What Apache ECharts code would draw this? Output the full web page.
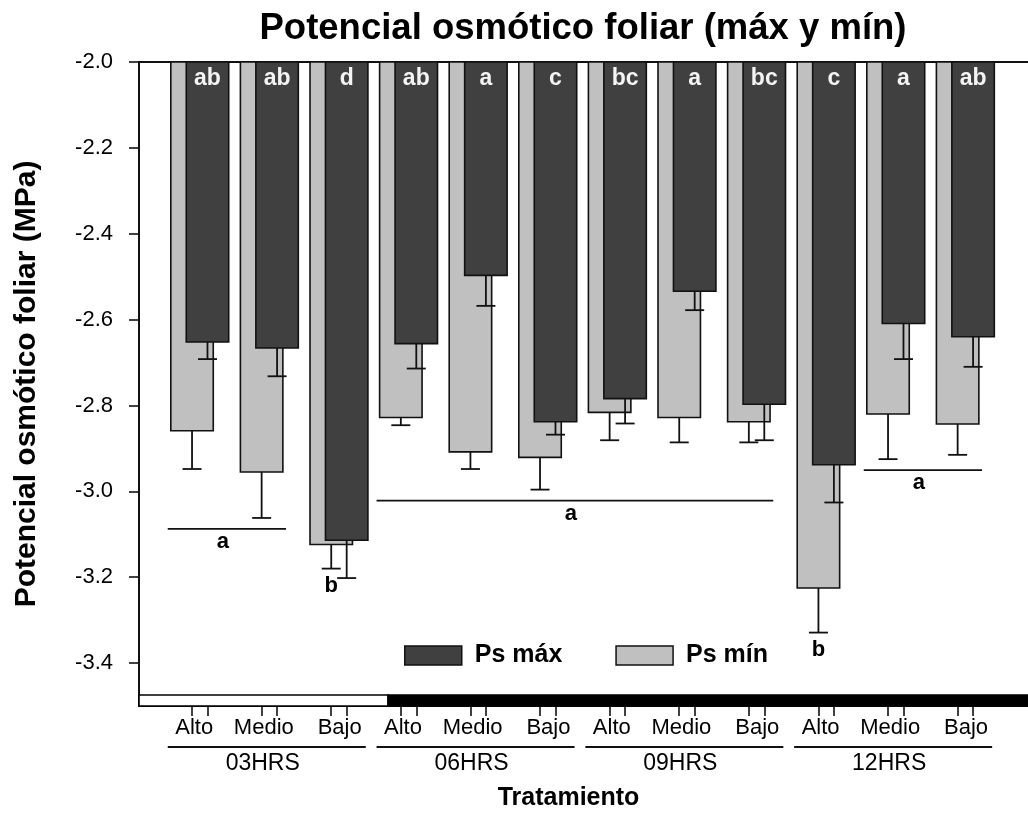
<!DOCTYPE html>
<html>
<head>
<meta charset="utf-8">
<title>Potencial osmótico foliar</title>
<script src="https://cdn.jsdelivr.net/npm/echarts@6/dist/echarts.min.js"></script>
<style>
  html, body { margin: 0; padding: 0; background: #fff; }
  #chart { width: 1028px; height: 820px; }
</style>
</head>
<body>
<div id="chart"></div>
<script>
// categorías
const niveles = ["Alto", "Medio", "Bajo"];
const tiempos = ["03HRS", "06HRS", "09HRS", "12HRS"];

// Ps máx (barras oscuras), error y letras
const psMax = [-2.652, -2.666, -3.114, -2.656, -2.497, -2.838, -2.784, -2.534, -2.797, -2.938, -2.609, -2.640];
const psMaxErr = [0.040, 0.066, 0.088, 0.058, 0.071, 0.030, 0.058, 0.044, 0.084, 0.088, 0.083, 0.070];
const letrasMax = ["ab", "ab", "d", "ab", "a", "c", "bc", "a", "bc", "c", "a", "ab"];

// Ps mín (barras claras), error
const psMin = [-2.859, -2.955, -3.124, -2.828, -2.908, -2.921, -2.816, -2.828, -2.838, -3.225, -2.820, -2.843];
const psMinErr = [0.089, 0.107, 0.056, 0.018, 0.040, 0.075, 0.065, 0.058, 0.048, 0.104, 0.105, 0.072];

// letras de Ps mín por grupos de tratamientos
const gruposMin = [
  { desde: 0, hasta: 1, letra: "a" },
  { desde: 2, hasta: 2, letra: "b" },
  { desde: 3, hasta: 8, letra: "a" },
  { desde: 9, hasta: 9, letra: "b" },
  { desde: 10, hasta: 11, letra: "a" },
];

// franja luz / oscuridad
const fotoperiodo = [
  { desde: -0.873, hasta: 2.705, luz: true },
  { desde: 2.705, hasta: 11.9, luz: false },
];

const yTicks = [-2.0, -2.2, -2.4, -2.6, -2.8, -3.0, -3.2, -3.4];

const X_MIN = -0.873, X_MAX = 11.9;
const Y_MIN = -3.5, Y_MAX = -2.0;
const OFF = 0.111;     // separación barra clara / oscura
const BAR_W = 0.61;
const OSCURO = "#404040";
const CLARO = "#c0c0c0";
const LINEA = "#111";
const FUENTE = '"Liberation Sans", Arial, sans-serif';

const xTicks = [];
const xLabels = [];
const corrLabel = [-0.08, -0.08, 0.01];
for (let i = 0; i < psMax.length; i++) {
  xTicks.push(i - OFF, i + OFF);
  xLabels.push(i + corrLabel[i % 3]);
}

function barras(offset, fill, valores, errores, letras) {
  return function (params, api) {
    const i = params.dataIndex;
    const cx = i + offset;
    const top = api.coord([cx, Y_MAX]);
    const bot = api.coord([cx, valores[i]]);
    const fin = api.coord([cx, valores[i] - errores[i]]);
    const w = api.size([BAR_W, 0])[0];
    const hijos = [
      { type: "rect", shape: { x: top[0] - w / 2, y: top[1], width: w, height: bot[1] - top[1] },
        style: { fill: fill, stroke: LINEA, lineWidth: 1.6 } },
      { type: "line", shape: { x1: bot[0], y1: bot[1], x2: bot[0], y2: fin[1] },
        style: { stroke: LINEA, lineWidth: 1.8 } },
      { type: "line", shape: { x1: bot[0] - 9.5, y1: fin[1], x2: bot[0] + 9.5, y2: fin[1] },
        style: { stroke: LINEA, lineWidth: 1.8 } },
    ];
    if (letras) {
      hijos.push({ type: "text", x: top[0], y: top[1] + 5,
        style: { text: letras[i], fill: "#f4f4f4", font: "bold 23px " + FUENTE, align: "center", verticalAlign: "top" } });
    }
    return { type: "group", children: hijos };
  };
}

const chart = echarts.init(document.getElementById("chart"));

chart.setOption({
  animation: false,
  graphic: [{
    type: "text", x: 583, y: 10,
    style: { text: "Potencial osmótico foliar (máx y mín)", font: "bold 36.5px " + FUENTE, fill: "#000", align: "center", verticalAlign: "top" }
  }],
  legend: {
    left: 404, top: 643, padding: 0, itemWidth: 57, itemHeight: 19, itemGap: 53, icon: "rect",
    textStyle: { fontSize: 25, fontWeight: "bold", color: "#000", fontFamily: FUENTE, padding: [0, 0, 0, 8] },
    data: [
      { name: "Ps máx", itemStyle: { color: OSCURO, borderColor: LINEA, borderWidth: 1.5 } },
      { name: "Ps mín", itemStyle: { color: CLARO, borderColor: LINEA, borderWidth: 1.5 } },
    ],
  },
  grid: { left: 139, right: 0, top: 62, bottom: 114, outerBoundsMode: "none" },
  xAxis: [{
    type: "value", min: X_MIN, max: X_MAX, position: "bottom",
    name: "Tratamiento", nameLocation: "middle", nameGap: 80,
    nameTextStyle: { fontSize: 25, fontWeight: "bold", color: "#000", fontFamily: FUENTE, padding: [0, 30, 0, 0] },
    axisLine: { show: true, onZero: false, lineStyle: { color: LINEA, width: 2 } },
    axisTick: { show: true, customValues: xTicks, length: 10, lineStyle: { color: LINEA, width: 1.6 } },
    axisLabel: { customValues: xLabels, margin: 11, fontSize: 22, color: "#000", fontFamily: FUENTE,
      formatter: (v) => niveles[Math.round(v) % 3] },
    splitLine: { show: false },
  }, {
    type: "value", min: X_MIN, max: X_MAX, position: "top",
    axisLine: { show: true, onZero: false, lineStyle: { color: LINEA, width: 2 } },
    axisTick: { show: false }, axisLabel: { show: false }, splitLine: { show: false },
  }],
  yAxis: {
    type: "value", min: Y_MIN, max: Y_MAX, position: "left",
    name: "Potencial osmótico foliar (MPa)", nameLocation: "middle", nameGap: 97,
    nameTextStyle: { fontSize: 30, fontWeight: "bold", color: "#000", fontFamily: FUENTE },
    axisLine: { show: true, onZero: false, lineStyle: { color: LINEA, width: 2 } },
    axisTick: { show: true, customValues: yTicks, length: 10, lineStyle: { color: LINEA, width: 1.6 } },
    axisLabel: { customValues: yTicks, margin: 26, fontSize: 22, color: "#000", fontFamily: FUENTE,
      formatter: (v) => v.toFixed(1) },
    splitLine: { show: false },
  },
  series: [
    {
      name: "Ps mín", type: "custom", clip: false,
      itemStyle: { color: CLARO },
      data: psMin.map((v, i) => [i, v]),
      encode: { x: 0, y: 1 },
      renderItem: barras(-OFF, CLARO, psMin, psMinErr, null),
    },
    {
      name: "Ps máx", type: "custom", clip: false,
      itemStyle: { color: OSCURO },
      data: psMax.map((v, i) => [i, v]),
      encode: { x: 0, y: 1 },
      renderItem: barras(OFF, OSCURO, psMax, psMaxErr, letrasMax),
    },
    {
      name: "letras mín", type: "custom", clip: false, silent: true,
      data: gruposMin.map((g) => [g.desde, g.hasta]),
      renderItem: function (params, api) {
        const g = gruposMin[params.dataIndex];
        let bajo = Infinity;
        for (let i = g.desde; i <= g.hasta; i++) bajo = Math.min(bajo, psMin[i] - psMinErr[i]);
        const fin = api.coord([g.desde - OFF, bajo]);
        const estilo = { fill: "#000", font: "bold 22px " + FUENTE, align: "center", verticalAlign: "middle" };
        if (g.desde === g.hasta) {
          return { type: "text", x: fin[0], y: fin[1] + 17, style: Object.assign({ text: g.letra }, estilo) };
        }
        const a = api.coord([g.desde - 0.46, bajo]);
        const b = api.coord([g.hasta + 0.24, bajo]);
        const y = a[1] + 11;
        return { type: "group", children: [
          { type: "line", shape: { x1: a[0], y1: y, x2: b[0], y2: y }, style: { stroke: LINEA, lineWidth: 1.8 } },
          { type: "text", x: (a[0] + b[0]) / 2 - 4, y: y + 13, style: Object.assign({ text: g.letra }, estilo) },
        ] };
      },
    },
    {
      name: "fotoperiodo", type: "custom", clip: false, silent: true,
      data: fotoperiodo.map((f) => [f.desde, f.hasta]),
      renderItem: function (params, api) {
        const f = fotoperiodo[params.dataIndex];
        const a = api.coord([f.desde, Y_MIN]);
        const b = api.coord([f.hasta, Y_MIN]);
        return { type: "rect", shape: { x: a[0], y: a[1] - 11, width: b[0] - a[0], height: 11 },
          style: { fill: f.luz ? "#fff" : "#000", stroke: "#000", lineWidth: 1.6 } };
      },
    },
    {
      name: "tiempos", type: "custom", clip: false, silent: true,
      data: tiempos.map((t, k) => [3 * k]),
      renderItem: function (params, api) {
        const k = params.dataIndex;
        const a = api.coord([3 * k - 0.46, Y_MIN]);
        const b = api.coord([3 * k + 2.385, Y_MIN]);
        return { type: "group", children: [
          { type: "line", shape: { x1: a[0], y1: a[1] + 41, x2: b[0], y2: a[1] + 41 }, style: { stroke: LINEA, lineWidth: 1.8 } },
          { type: "text", x: (a[0] + b[0]) / 2 - 4, y: a[1] + 58,
            style: { text: tiempos[k], fill: "#000", font: "23px " + FUENTE, align: "center", verticalAlign: "middle" } },
        ] };
      },
    },
  ],
});

window.onresize = chart.resize;
</script>
</body>
</html>
